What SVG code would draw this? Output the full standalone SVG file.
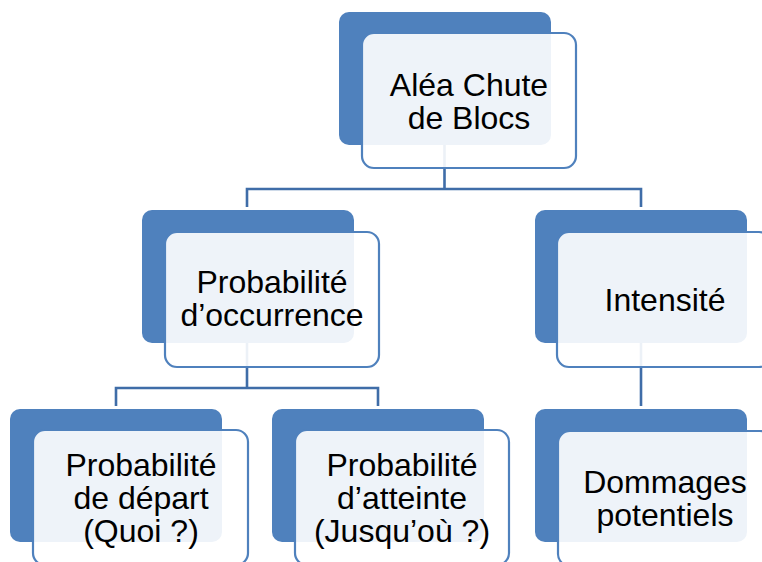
<svg xmlns="http://www.w3.org/2000/svg" width="762" height="562" viewBox="0 0 762 562">
<style>
.back{fill:#4F81BD;}
.front{fill:#FFFFFF;fill-opacity:0.9;stroke:#4F81BD;stroke-width:2.2;}
.conn{fill:none;stroke:#3F6DA8;stroke-width:2.6;}
.t{font-family:"Liberation Sans",Arial,sans-serif;font-size:32px;fill:#000;text-anchor:middle;}
</style>
<rect width="762" height="562" fill="#FFFFFF"/>
<g id="connectors">
<path class="conn" d="M444.5,145 V189 M247,207 V189 H641 V207"/>
<path class="conn" d="M247,343 V388 M116,406 V388 H378 V406"/>
<path class="conn" d="M641,343 V406"/>
</g>
<g id="node-alea">
<rect class="back" x="339" y="12" width="212" height="133" rx="10"/>
<rect class="front" x="362" y="33" width="214" height="135" rx="12"/>
<text class="t" x="469" y="96">Aléa Chute</text>
<text class="t" x="469" y="129">de Blocs</text>
</g>
<g id="node-occurrence">
<rect class="back" x="142" y="210" width="212" height="133" rx="10"/>
<rect class="front" x="165" y="232" width="214" height="135" rx="12"/>
<text class="t" x="272" y="293">Probabilité</text>
<text class="t" x="272" y="326">d’occurrence</text>
</g>
<g id="node-intensite">
<rect class="back" x="535" y="210" width="212" height="133" rx="10"/>
<rect class="front" x="557" y="232" width="214" height="135" rx="12"/>
<text class="t" x="665" y="311">Intensité</text>
</g>
<g id="node-depart">
<rect class="back" x="10" y="409" width="212" height="133" rx="10"/>
<rect class="front" x="33" y="430" width="215" height="135" rx="12"/>
<text class="t" x="141" y="476">Probabilité</text>
<text class="t" x="141" y="509">de départ</text>
<text class="t" x="141" y="542">(Quoi ?)</text>
</g>
<g id="node-atteinte">
<rect class="back" x="272" y="409" width="212" height="133" rx="10"/>
<rect class="front" x="295" y="430" width="214" height="135" rx="12"/>
<text class="t" x="402" y="476">Probabilité</text>
<text class="t" x="402" y="509">d’atteinte</text>
<text class="t" x="402" y="542">(Jusqu’où ?)</text>
</g>
<g id="node-dommages">
<rect class="back" x="535" y="409" width="212" height="133" rx="10"/>
<rect class="front" x="558" y="431" width="214" height="135" rx="12"/>
<text class="t" x="665" y="493">Dommages</text>
<text class="t" x="665" y="526">potentiels</text>
</g>
</svg>
